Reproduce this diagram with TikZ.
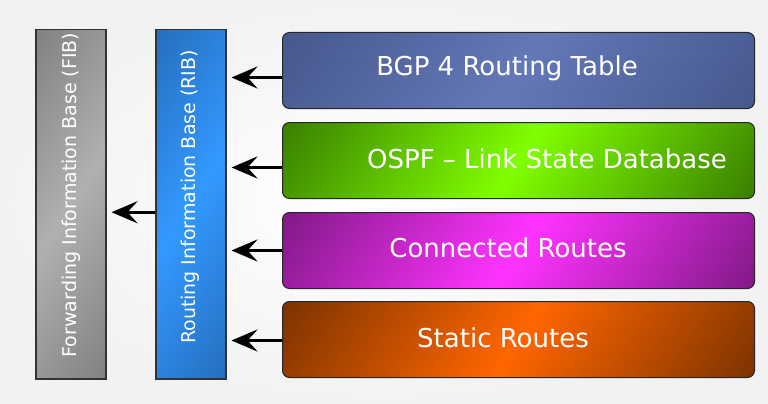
\documentclass[tikz,border=0pt]{standalone}
\usepackage{fontspec}
\setmainfont{DejaVu Sans}
\usetikzlibrary{arrows.meta}
\definecolor{bgpA}{HTML}{44568A}
\definecolor{bgpB}{HTML}{6478B8}
\definecolor{ospA}{HTML}{367800}
\definecolor{ospB}{HTML}{80FF00}
\definecolor{conA}{HTML}{7A1880}
\definecolor{conB}{HTML}{FF33FF}
\definecolor{staA}{HTML}{753000}
\definecolor{staB}{HTML}{FF6600}
\definecolor{ribA}{HTML}{2262AC}
\definecolor{ribB}{HTML}{3399FF}
\definecolor{fibA}{HTML}{747474}
\definecolor{fibB}{HTML}{B0B0B0}
\colorlet{gA}{black}
\colorlet{gB}{white}
\pgfdeclarehorizontalshading[gA,gB]{gradmid}{100bp}{color(0bp)=(gA); color(30bp)=(gA); color(50bp)=(gB); color(70bp)=(gA); color(100bp)=(gA)}
\begin{document}
\begin{tikzpicture}[x=1pt,y=-1pt,
  box/.style={draw=black!85, line width=1pt, rounded corners=7pt,
    minimum width=472pt, minimum height=76pt, inner sep=0pt, anchor=north west},
  bar/.style={draw=black!80, line width=1.5pt, minimum width=70pt,
    minimum height=349pt, inner sep=0pt, anchor=north west},
  boxtext/.style={text=white, font=\fontsize{26}{30}\selectfont, inner sep=0pt},
  bartext/.style={text=white, font=\fontsize{19}{22}\selectfont, rotate=90, inner sep=0pt},
  arr/.style={line width=3.5pt, -{Stealth[length=26pt,width=22pt,inset=10pt]}, shorten >=5pt},
  grad/.style n args={3}{fill=#1, path picture={\colorlet{gA}{#1}\colorlet{gB}{#2}%
      \shade[shading=gradmid, shading angle=-33]
      ([shift={(-#3,-#3)}]path picture bounding box.center) rectangle
      ([shift={(#3,#3)}]path picture bounding box.center);}}
]
\fill[white] (0,0) rectangle (768,404);
\shade[inner color=white, outer color=black!5] (0,0) rectangle (768,404);
\useasboundingbox (0,0) rectangle (768,404);

\node[bar, grad={fibA}{fibB}{200}] (fib) at (35,29) {};
\node[bar, grad={ribA}{ribB}{200}] (rib) at (155,29) {};
\node[bartext] (fibt) at (71,195) {Forwarding Information Base (FIB)};
\node[bartext] (ribt) at (190,197) {Routing Information Base (RIB)};

\node[box, grad={bgpA}{bgpB}{290}] (bgp) at (282,32) {};
\node[box, grad={ospA}{ospB}{290}] (osp) at (282,122) {};
\node[box, grad={conA}{conB}{290}] (con) at (282,212) {};
\node[box, grad={staA}{staB}{290}] (sta) at (282,301) {};

\node[boxtext] (bgpt) at (507,68) {BGP 4 Routing Table};
\node[boxtext] (ospt) at (547,159) {OSPF – Link State Database};
\node[boxtext] (cont) at (508,248) {Connected Routes};
\node[boxtext] (stat) at (503,338) {Static Routes};

\draw[arr] ([yshift=-7pt]bgp.west) -- ([yshift=-7pt]bgp.west -| rib.east);
\draw[arr] ([yshift=-7pt]osp.west) -- ([yshift=-7pt]osp.west -| rib.east);
\draw[arr] (con.west) -- (con.west -| rib.east);
\draw[arr] ([yshift=-1pt]sta.west) -- ([yshift=-1pt]sta.west -| rib.east);
\draw[arr] ([yshift=-8pt]rib.west) -- ([yshift=-8pt]rib.west -| fib.east);
\end{tikzpicture}
\end{document}
